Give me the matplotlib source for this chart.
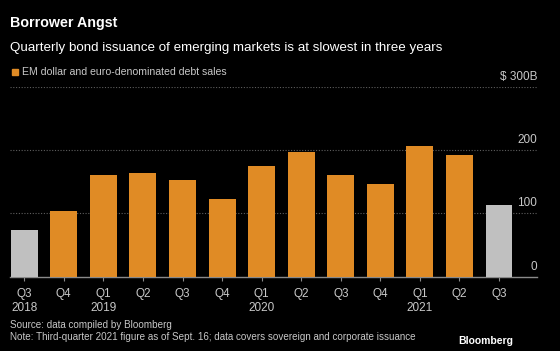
import matplotlib
matplotlib.use("Agg")
import matplotlib.pyplot as plt

quarters = ["Q3", "Q4", "Q1", "Q2", "Q3", "Q4", "Q1", "Q2", "Q3", "Q4", "Q1", "Q2", "Q3"]
years = ["2018", "", "2019", "", "", "", "2020", "", "", "", "2021", "", ""]
values = [73, 103, 160, 164, 153, 123, 175, 197, 161, 146, 206, 192, 114]
colors = ["#c0c0c0"] + ["#e08b25"] * 11 + ["#c0c0c0"]
yticks = [0, 100, 200, 300]
ytick_labels = ["0", "100", "200", "$ 300B"]

plt.rcParams["font.family"] = ["Liberation Sans", "DejaVu Sans"]
W, H = 560, 351
fig = plt.figure(figsize=(W / 100, H / 100), dpi=100, facecolor="black")
ax = fig.add_axes([10 / W, (H - 276.7) / H, (537 - 10) / W, (276.7 - 86.7) / H])
ax.set_facecolor("black")

x = list(range(len(values)))
ax.bar(x, values, width=0.68, color=colors, zorder=3)
ax.set_xlim(-0.36, 12.96)
ax.set_ylim(0, 300)

for t in yticks[1:]:
    ax.axhline(t, color="#5e5e5e", lw=0.8, ls=(0, (1, 1.5)), zorder=1)
for t, lab in zip(yticks, ytick_labels):
    ax.annotate(lab, xy=(1.0, t), xycoords=("axes fraction", "data"),
                xytext=(0, 3), textcoords="offset points",
                ha="right", va="bottom", color="#c8c8c8", fontsize=8.5)

for s in ["top", "right", "left"]:
    ax.spines[s].set_visible(False)
ax.spines["bottom"].set_color("#8a8a8a")
ax.spines["bottom"].set_linewidth(1.0)
ax.set_yticks([])
ax.set_xticks(x)
ax.set_xticklabels([q + ("\n" + y if y else "\n") for q, y in zip(quarters, years)],
                   color="#c8c8c8", fontsize=8.5, linespacing=1.2)
ax.tick_params(axis="x", length=3, color="#8a8a8a", pad=5)

fig.text(10 / W, 1 - 23 / H, "Borrower Angst", color="white", fontsize=10.3,
         fontweight="bold", va="center", ha="left")
fig.text(10 / W, 1 - 48 / H, "Quarterly bond issuance of emerging markets is at slowest in three years",
         color="white", fontsize=9.6, va="center", ha="left")
fig.patches.append(plt.Rectangle((12 / W, 1 - 75 / H), 6 / W, 6 / H,
                                 transform=fig.transFigure, color="#e08b25"))
fig.text(22 / W, 1 - 72 / H, "EM dollar and euro-denominated debt sales",
         color="#c8c8c8", fontsize=7.6, va="center", ha="left")

fig.text(10 / W, 1 - 325 / H, "Source: data compiled by Bloomberg",
         color="#c8c8c8", fontsize=7.1, va="center", ha="left")
fig.text(10 / W, 1 - 337.5 / H,
         "Note: Third-quarter 2021 figure as of Sept. 16; data covers sovereign and corporate issuance",
         color="#c8c8c8", fontsize=7.1, va="center", ha="left")
fig.text(513 / W, 1 - 341 / H, "Bloomberg", color="white", fontsize=7.5,
         fontweight="bold", va="center", ha="right")

fig.savefig("out.png", dpi=100, facecolor="black")
